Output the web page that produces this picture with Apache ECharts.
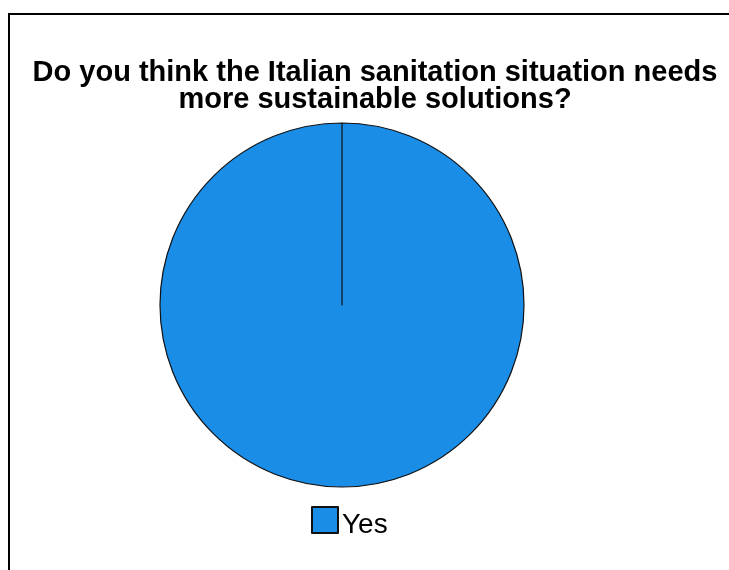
<!DOCTYPE html>
<html>
<head>
<meta charset="utf-8">
<script src="https://cdn.jsdelivr.net/npm/echarts@6/dist/echarts.min.js"></script>
<style>
  html, body { margin: 0; padding: 0; background: #fff; }
  #chart { width: 729px; height: 570px; }
</style>
</head>
<body>
<div id="chart"></div>
<script>
// Survey answers and their counts
const categories = ['Yes'];
const counts = [100];
const titleText = 'Do you think the Italian sanitation situation needs\nmore sustainable solutions?';

const chart = echarts.init(document.getElementById('chart'), null, { renderer: 'canvas' });

chart.setOption({
  animation: false,
  backgroundColor: '#ffffff',
  title: {
    text: titleText,
    left: 375,
    textAlign: 'center',
    top: 59,
    padding: 0,
    textStyle: {
      fontFamily: 'Liberation Sans, Arial, sans-serif',
      fontWeight: 'bold',
      fontSize: 29,
      lineHeight: 27,
      color: '#000'
    }
  },
  legend: {
    data: categories,
    left: 306,
    top: 501,
    // square swatch sitting in the upper part of a taller item box,
    // so the label sits a little below the swatch's centre
    icon: 'path://M0,0L26,0L26,26L0,26Z M0,37',
    itemWidth: 26,
    itemHeight: 37,
    itemGap: 10,
    textStyle: {
      fontFamily: 'Liberation Sans, Arial, sans-serif',
      fontSize: 28,
      color: '#000',
      padding: [0, 0, 0, -1]
    }
  },
  graphic: [{
    type: 'rect',
    shape: { x: 9, y: 14, width: 760, height: 600 },
    style: { fill: 'none', stroke: '#000', lineWidth: 2 },
    silent: true
  }],
  series: [{
    type: 'pie',
    center: [342, 305],
    radius: 182,
    startAngle: 90,
    endAngle: -269.99,
    clockwise: true,
    label: { show: false },
    labelLine: { show: false },
    emphasis: { disabled: true },
    itemStyle: {
      color: '#1a8de6',
      borderColor: '#111',
      borderWidth: 1.2
    },
    data: categories.map((name, i) => ({ name, value: counts[i] }))
  }]
});
</script>
</body>
</html>
